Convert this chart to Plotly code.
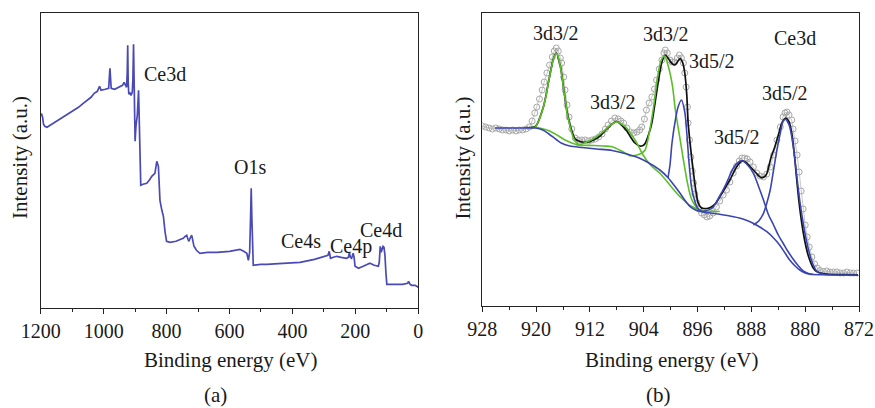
import plotly.graph_objects as go

# ---------------- Panel (a): survey spectrum ----------------
survey_be = [1200, 1197, 1194, 1191, 1187, 1180, 1170, 1150, 1130, 1117, 1100, 1080, 1065, 1050, 1040,
             1030, 1020, 1013, 1008, 995, 984, 980, 976, 965, 950, 940, 935, 930, 927, 925,
             923.5, 922, 920, 917, 913, 909, 907, 905, 903, 900, 897, 893, 889, 887, 884,
             882, 875, 863, 855, 847, 837, 831, 826, 821, 815, 810, 805, 800, 789, 770,
             755, 747, 741, 736, 732, 729, 724, 720, 716, 713, 705, 694, 670, 640, 600,
             567, 555, 545, 540, 536, 533, 531, 529, 527, 524.5, 500, 482, 430, 376, 330,
             296, 287, 283, 279, 270, 259, 245, 228, 222, 219, 216, 212, 207, 204, 201,
             190, 175, 154, 140, 132, 127, 124, 121, 118, 115, 112, 109, 106, 103, 100,
             80, 50, 34, 31, 26, 21, 10, 0]
survey_int = [192, 193, 190, 183, 181, 180, 182, 186, 190, 192, 196, 200, 204, 208, 210,
              214, 216, 221, 217, 218, 219, 239, 219, 218, 220, 222, 225, 221, 220, 235,
              262, 225, 213, 215, 212, 215, 228, 263, 222, 166, 182, 192, 217, 180, 125,
              122, 123, 124, 127, 131, 134, 146, 141, 107, 97, 91, 76, 66, 65, 66,
              68, 69, 71, 72, 68, 66, 70, 72, 66, 61, 57, 54, 55, 55, 56,
              58, 56, 54, 47, 55, 90, 119, 90, 55, 42, 43, 43, 44, 45, 48,
              51, 52, 56, 49, 50, 51, 50, 49, 50, 55, 50, 49, 54, 50, 41,
              39, 41, 44, 42, 41, 41, 45, 61, 55, 58, 61, 60, 52, 35, 23,
              23, 23, 24, 26, 23, 22, 22, 20]

survey_labels = ["Ce3d", "O1s", "Ce4s", "Ce4p", "Ce4d"]
survey_label_be = [805, 535, 372, 215, 118]
survey_label_int = [233, 140, 66, 61, 77]

# ---------------- Panel (b): Ce3d high resolution ----------------
data_be = [928.0, 927.5, 927.0, 926.5, 926.0, 925.5, 925.0, 924.5, 924.0, 923.5, 923.0, 922.5, 922.0, 921.5,
           921.0, 920.6, 920.2, 919.9, 919.5, 919.1, 918.8, 918.4, 918.0, 917.6, 917.3, 917.0, 916.7, 916.4,
           916.2, 915.9, 915.7, 915.4, 915.1, 914.7, 914.2, 913.7, 913.2, 912.7, 912.2, 911.7, 911.2, 910.7,
           910.2, 909.7, 909.3, 908.8, 908.3, 907.8, 907.4, 907.0, 906.5, 906.0, 905.5, 905.0, 904.6, 904.3,
           903.9, 903.6, 903.2, 902.8, 902.4, 902.1, 901.7, 901.3, 901.0, 900.8, 900.5, 900.1, 899.8, 899.4,
           899.0, 898.7, 898.4, 898.1, 897.9, 897.7, 897.5, 897.4, 897.2, 897.0, 896.8, 896.6, 896.4, 896.1,
           895.8, 895.4, 895.0, 894.6, 894.2, 893.7, 893.2, 892.7, 892.2, 891.7, 891.2, 890.7, 890.2, 889.8,
           889.4, 889.0, 888.6, 888.2, 887.7, 887.2, 886.7, 886.2, 885.7, 885.2, 884.7, 884.2, 883.7, 883.3,
           883.0, 882.7, 882.4, 882.0, 881.8, 881.5, 881.2, 880.9, 880.6, 880.3, 880.0, 879.7, 879.4, 879.0,
           878.6, 878.2, 877.8, 877.3, 876.8, 876.3, 875.8, 875.3, 874.8, 874.3, 873.8, 873.3, 872.8, 872.3]
data_int = [179, 178, 177, 176, 177, 176, 175, 175, 174, 175, 174, 175, 175, 176,
            178, 184, 192, 198, 206, 215, 223, 232, 240, 248, 254, 257, 254, 247,
            242, 228, 215, 200, 188, 176, 167, 165, 165, 165, 164, 165, 166, 168,
            171, 176, 180, 184, 187, 186, 184, 182, 177, 173, 172, 173, 175, 178,
            186, 195, 202, 208, 216, 225, 236, 245, 252, 255, 252, 245, 243, 243,
            247, 250, 247, 242, 232, 218, 198, 182, 165, 148, 134, 122, 111, 102,
            96, 92, 90, 88, 89, 92, 98, 104, 110, 115, 123, 132, 139, 144,
            147, 147, 146, 143, 138, 132, 129, 128, 131, 138, 150, 165, 178, 188,
            192, 193, 190, 185, 176, 164, 150, 133, 114, 96, 80, 68, 58, 48,
            41, 37, 34.5, 33.5, 34, 33, 33, 33, 32, 32, 33, 32, 32, 32]

fit_be = [921.0, 920.1, 918.9, 918.1, 917.4, 917.0, 916.4, 915.9, 915.4, 914.7, 914.2, 913.2, 912.2, 911.2,
          910.5, 909.5, 908.7, 908.0, 907.3, 906.5, 906.0, 905.3, 904.6, 904.1, 903.8, 903.3, 902.8, 902.3,
          901.8, 901.3, 900.8, 900.3, 899.8, 899.4, 899.0, 898.6, 898.2, 897.9, 897.6, 897.4, 897.0, 896.6,
          896.2, 895.9, 895.5, 895.1, 894.6, 894.1, 893.4, 892.7, 891.9, 891.2, 890.2, 889.4, 888.8, 888.2,
          887.3, 886.6, 886.0, 885.7, 885.1, 884.5, 883.9, 883.5, 882.9, 882.4, 882.0, 881.6, 881.3, 880.9,
          880.5, 880.0, 879.5, 878.8, 878.3, 876.8, 874.5, 872.15]
fit_int = [177.5, 178.5, 198.5, 225, 247, 252, 239, 216, 193, 174, 166, 163, 163, 166,
           169, 176, 181, 183.5, 180, 174, 168.5, 162, 159, 159.5, 161.5, 170, 182, 203,
           225, 243, 250, 246, 241.5, 240, 243, 246.5, 242, 232, 210, 182, 155, 132,
           112, 102, 97.5, 96.5, 96.5, 97.5, 101, 108, 117, 125, 138, 144, 142.5, 138.5,
           132, 127.5, 128.5, 131.5, 147, 158.5, 172, 181.5, 187, 183, 172, 150, 128.5, 102,
           81.5, 62, 48.5, 37, 33.5, 30.8, 30.3, 30.2]

bg_blue_be = [926.1, 924.0, 922.0, 920.1, 919.0, 918.1, 917.0, 916.2, 915.0, 913.2, 911.0, 908.7, 906.5,
              904.6, 903.0, 901.6, 900.35, 899.4, 898.6, 897.8, 897.1, 896.3, 895.6, 893.5, 891.2,
              889.5, 888.2, 887.0, 885.7, 884.7, 883.8, 883.0, 882.3, 881.5, 880.8, 880.0, 879.3,
              877.5, 872.2]
bg_blue_int = [177, 177, 177, 177, 175, 171, 165.5, 161.7, 159, 157.5, 156, 154.5, 151,
               146.7, 141, 135, 127, 119, 111.7, 104, 98.3, 95, 93.5, 91.5, 89,
               86.5, 83.3, 79, 73.3, 67, 60, 52, 45, 39, 35, 32, 30.7,
               30.2, 30]

bg_green_be = [920.6, 919.5, 918.1, 916.9, 915.7, 914.7, 913.7, 911.5, 910.0, 908.7, 907.3, 906.0]
bg_green_int = [177.7, 177, 174.3, 170, 165, 162, 160, 159.5, 159, 158.3, 154, 149]

g1_be = [920.1, 919.5, 918.9, 918.5, 918.1, 917.7, 917.4, 917.0, 916.7, 916.4, 916.1, 915.9, 915.6,
         915.4, 915.0, 914.7, 914.3, 913.9, 913.2]
g1_int = [177.7, 186, 198.5, 210, 225, 238, 246.5, 251.7, 248, 238.3, 226, 215, 203,
          191.7, 180, 171.7, 165, 161.7, 159]

g2_be = [914.0, 913.2, 912.5, 911.7, 911.0, 910.2, 909.5, 908.7, 908.0, 907.3, 906.5, 905.7, 905.0,
         904.1, 903.0, 901.6, 900.0, 898.6, 897.0, 895.6, 894.0, 892.7]
g2_int = [160, 161, 163, 165.5, 168.3, 172.5, 176.7, 181, 183.3, 181, 176.7, 169, 161.7,
          150, 140, 131.7, 119, 108.3, 99, 95, 93.7, 93.5]

g3_be = [906.0, 905.0, 904.4, 903.8, 903.1, 902.5, 901.9, 901.4, 900.9, 900.4, 899.75, 899.3, 898.7,
         898.1, 897.5, 896.9, 895.9, 894.6]
g3_int = [149, 150, 151.5, 155, 175, 200, 230, 245, 249, 240, 220, 195, 170,
          145, 122, 106, 96, 92]

b1_be = [900.4, 900.1, 899.8, 899.3, 898.9, 898.4, 897.9, 897.6, 897.3, 896.9, 896.5, 895.9, 894.6]
b1_int = [127, 140, 162, 185, 198, 205, 193, 172, 145, 118, 106, 96, 92]

b2_be = [895.2, 893.8, 892.7, 891.7, 890.7, 889.9, 889.4, 888.7, 887.7, 886.9, 886.2, 885.5, 884.7,
         884.0, 883.3, 882.6, 881.8, 881.0, 880.3, 879.5, 878.8]
b2_int = [93.5, 97, 109, 122, 136.7, 143, 144.3, 141, 131.7, 118, 105, 91, 80,
          70, 62, 54, 46, 39, 34, 31.5, 30.7]

b3_be = [887.7, 886.9, 886.2, 885.7, 885.2, 884.7, 884.2, 883.7, 883.3, 882.9, 882.6, 882.3, 881.8,
         881.3, 880.8, 880.3, 879.8, 879.3, 878.8, 878.3, 877.3, 876.5]
b3_int = [80, 84, 91.7, 102, 115, 135, 155, 172, 183.3, 185.7, 183, 178.3, 160,
          132, 104, 82, 64, 50, 40, 34, 30.7, 30.2]

peak_labels = ["3d3/2", "3d3/2", "3d3/2", "3d5/2", "3d5/2", "3d5/2", "Ce3d"]
peak_label_be = [917.1, 908.6, 900.7, 893.8, 890.2, 883.0, 881.5]
peak_label_int = [271.7, 203.3, 271, 244.5, 168, 212.5, 267.5]

# ---------------- styling ----------------
W, H = 875, 408
FONT = "Liberation Serif"
TXT = "#1a1a1a"
AX = "#222222"
SURVEY_COL = "#4a4ab6"
BLUE = "#3b45b2"
GREEN = "#5cbf2a"
BLACK = "#111111"
GRAY = "#a8a8a8"

fig = go.Figure()

fig.add_trace(go.Scatter(x=survey_be, y=survey_int, mode="lines",
                         line=dict(color=SURVEY_COL, width=1.7), xaxis="x", yaxis="y",
                         hoverinfo="skip"))

fig.add_trace(go.Scatter(x=data_be, y=data_int, mode="lines+markers",
                         line=dict(color="#b0b0b0", width=0.7),
                         marker=dict(symbol="circle-open", size=6, color=GRAY, line=dict(width=1)),
                         xaxis="x2", yaxis="y2"))

spline = dict(shape="spline", smoothing=0.8)
fig.add_trace(go.Scatter(x=fit_be, y=fit_int, mode="lines",
                         line=dict(color=BLACK, width=1.7, **spline), xaxis="x2", yaxis="y2"))
for xs, ys in [(bg_green_be, bg_green_int), (g1_be, g1_int), (g2_be, g2_int), (g3_be, g3_int)]:
    fig.add_trace(go.Scatter(x=xs, y=ys, mode="lines",
                             line=dict(color=GREEN, width=1.6, **spline), xaxis="x2", yaxis="y2"))
for xs, ys in [(bg_blue_be, bg_blue_int), (b1_be, b1_int), (b2_be, b2_int), (b3_be, b3_int)]:
    fig.add_trace(go.Scatter(x=xs, y=ys, mode="lines",
                             line=dict(color=BLUE, width=1.6, **spline), xaxis="x2", yaxis="y2"))

def px(v):
    return v / W

def py(v):
    return 1 - v / H

common_x = dict(showline=True, mirror=True, linecolor=AX, linewidth=1.3,
                ticks="outside", ticklen=5, tickwidth=1.2, tickcolor=AX,
                showgrid=False, zeroline=False, automargin=False,
                tickfont=dict(family=FONT, size=20, color=TXT))
common_y = dict(showline=True, mirror=True, linecolor=AX, linewidth=1.3, automargin=False,
                ticks="", showticklabels=False, showgrid=False, zeroline=False)

fig.update_layout(
    width=W, height=H,
    margin=dict(l=0, r=0, t=0, b=0, autoexpand=False),
    paper_bgcolor="white", plot_bgcolor="white",
    showlegend=False,
    font=dict(family=FONT, color=TXT),
    xaxis=dict(domain=[px(40.7), px(418.3)], range=[1200, 0], anchor="y",
               tickvals=[1200, 1000, 800, 600, 400, 200, 0],
               minor=dict(ticks="outside", ticklen=3, tickwidth=1.1, tickcolor=AX,
                          tickvals=[1100, 900, 700, 500, 300, 100]),
               **common_x),
    yaxis=dict(domain=[py(308), py(13.3)], range=[-0.7, 294], anchor="x", **common_y),
    xaxis2=dict(domain=[px(482.3), px(859)], range=[928, 872], anchor="y2",
                tickvals=[928, 920, 912, 904, 896, 888, 880, 872],
                minor=dict(ticks="outside", ticklen=3, tickwidth=1.1, tickcolor=AX,
                           tickvals=[924, 916, 908, 900, 892, 884, 876]),
                **common_x),
    yaxis2=dict(domain=[py(305.5), py(13.3)], range=[-0.5, 291.7], anchor="x2", **common_y),
)

ann = []
for t, xv, yv in zip(survey_labels, survey_label_be, survey_label_int):
    ann.append(dict(text=t, x=xv, y=yv, xref="x", yref="y", showarrow=False,
                    font=dict(family=FONT, size=20, color=TXT), xanchor="center", yanchor="middle"))
for t, xv, yv in zip(peak_labels, peak_label_be, peak_label_int):
    ann.append(dict(text=t, x=xv, y=yv, xref="x2", yref="y2", showarrow=False,
                    font=dict(family=FONT, size=20, color=TXT), xanchor="center", yanchor="middle"))

titles = [
    ("Binding energy (eV)", 230, 360, 0),
    ("Binding energy (eV)", 671.7, 360, 0),
    ("Intensity (a.u.)", 20, 158, -90),
    ("Intensity (a.u.)", 462.5, 158, -90),
    ("(a)", 215, 395, 0),
    ("(b)", 658, 395, 0),
]
for t, x0, y0, ang in titles:
    ann.append(dict(text=t, x=px(x0), y=py(y0), xref="paper", yref="paper", showarrow=False,
                    textangle=ang, font=dict(family=FONT, size=21, color=TXT),
                    xanchor="center", yanchor="middle"))

fig.update_layout(annotations=ann)
fig.write_html("out.html", config={"displayModeBar": False},
               post_script="document.body.style.margin='0px';document.body.style.overflow='hidden';")
